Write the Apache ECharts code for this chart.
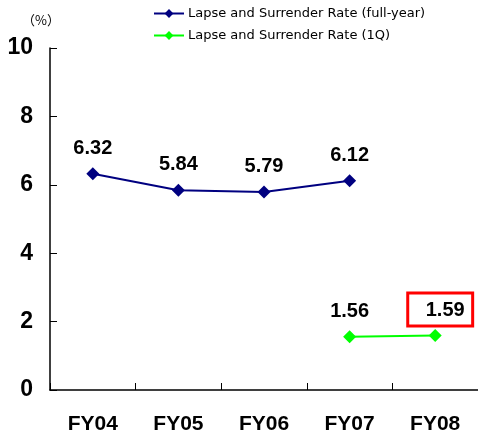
<!DOCTYPE html>
<html>
<head>
<meta charset="utf-8">
<script src="https://cdn.jsdelivr.net/npm/echarts@6/dist/echarts.min.js"></script>
<style>
  html, body { margin: 0; padding: 0; background: #fff; }
  #chart { width: 478px; height: 439px; }
</style>
</head>
<body>
<div id="chart"></div>
<script>
// Fiscal years on the x axis
const categories = ['FY04', 'FY05', 'FY06', 'FY07', 'FY08'];
// Lapse and surrender rates (%)
const fullYear = [6.32, 5.84, 5.79, 6.12, null];
const firstQuarter = [null, null, null, 1.56, 1.59];
const yTicks = [0, 2, 4, 6, 8, 10];

const FONT = 'Liberation Sans, Arial, sans-serif';
const chart = echarts.init(document.getElementById('chart'));

const labelBase = {
  show: true,
  position: 'top',
  distance: 8,
  color: '#000',
  fontFamily: FONT,
  fontWeight: 'bold',
  fontSize: 20,
  lineHeight: 22,
  formatter: p => p.value.toFixed(2)
};

chart.setOption({
  animation: false,
  backgroundColor: '#fff',
  legend: {
    orient: 'vertical',
    left: 153,
    top: 7,
    padding: 0,
    itemWidth: 30,
    itemHeight: 11,
    itemGap: 9,
    textStyle: { fontSize: 13, color: '#000', fontFamily: 'DejaVu Sans, sans-serif', padding: [0, 0, 0, -1] },
    data: [
      'Lapse and Surrender Rate (full-year)',
      'Lapse and Surrender Rate (1Q)'
    ]
  },
  graphic: [{
    type: 'text',
    left: 22,
    top: 14,
    style: { text: '（%）', fontSize: 13, fill: '#000', fontFamily: 'Noto Sans CJK JP, sans-serif' }
  }],
  grid: { left: 50, top: 48, width: 430, height: 342 },
  xAxis: {
    type: 'category',
    data: categories,
    boundaryGap: true,
    axisLine: { lineStyle: { color: '#000', width: 1.5 } },
    axisTick: { show: true, inside: true, length: 7, lineStyle: { color: '#000', width: 1 } },
    axisLabel: {
      color: '#000',
      fontFamily: FONT,
      fontWeight: 'bold',
      fontSize: 21,
      margin: 24
    }
  },
  yAxis: {
    type: 'value',
    min: yTicks[0],
    max: yTicks[yTicks.length - 1],
    interval: 2,
    splitLine: { show: false },
    axisLine: { show: true, lineStyle: { color: '#000', width: 1.5 } },
    axisTick: { show: true, inside: true, length: 7, lineStyle: { color: '#000' } },
    axisLabel: {
      color: '#000',
      fontFamily: FONT,
      fontWeight: 'bold',
      fontSize: 23,
      margin: 17
    }
  },
  series: [
    {
      name: 'Lapse and Surrender Rate (full-year)',
      type: 'line',
      data: fullYear,
      color: '#000080',
      symbol: 'diamond',
      symbolSize: 13,
      lineStyle: { width: 2, color: '#000080' },
      itemStyle: { color: '#000080' },
      label: labelBase
    },
    {
      name: 'Lapse and Surrender Rate (1Q)',
      type: 'line',
      data: firstQuarter.map((v, i) => i === firstQuarter.length - 1
        // the latest first-quarter value is framed in red
        ? {
            value: v,
            label: {
              distance: 3,
              offset: [5, 0],
              borderColor: '#ff0000',
              borderWidth: 3,
              padding: [6, 8, 5, 18]
            }
          }
        : v),
      color: '#00ff00',
      symbol: 'diamond',
      symbolSize: 13,
      lineStyle: { width: 2, color: '#00ff00' },
      itemStyle: { color: '#00ff00' },
      label: labelBase
    }
  ]
});
</script>
</body>
</html>
